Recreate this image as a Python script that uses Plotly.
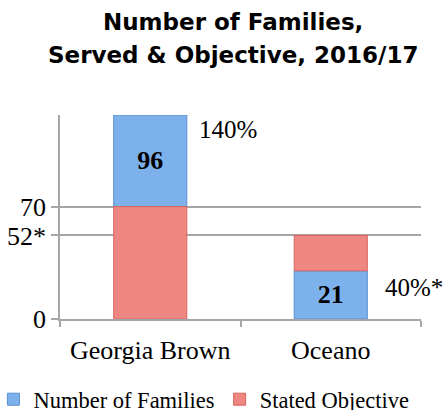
import plotly.graph_objects as go

# ---- data (segment heights as drawn) ----
categories = ["Georgia Brown", "Oceano"]
families_drawn = [57, 30]        # drawn height of "Number of Families" segment
objective_drawn = [70, 22]       # drawn height of "Stated Objective" segment
families_labels = ["96", "21"]
percent_labels = ["140%", "40%*"]
ytick_vals = [0, 52, 70]
ytick_text = ["0", "52*", "70"]
# stacking order: Georgia Brown objective at bottom, Oceano families at bottom
families_on_top = [True, False]

fam_base = [o if top else 0 for o, top in zip(objective_drawn, families_on_top)]
obj_base = [0 if top else f for f, top in zip(families_drawn, families_on_top)]
totals = [f + o for f, o in zip(families_drawn, objective_drawn)]

serif = "Liberation Serif, Times New Roman, serif"
grid = "#A6A6A6"

fig = go.Figure()
fig.add_trace(go.Bar(
    x=categories, y=families_drawn, base=fam_base, name="Number of Families",
    marker=dict(color="#7DB1EC", line=dict(color="#5A8ED0", width=1)),
    width=0.405, text=[f"<b>{t}</b>" for t in families_labels],
    textposition="inside", insidetextanchor="middle", textangle=0,
    constraintext="none",
    textfont=dict(family=serif, size=26, color="black"),
))
fig.add_trace(go.Bar(
    x=categories, y=objective_drawn, base=obj_base, name="Stated Objective",
    marker=dict(color="#EE8782", line=dict(color="#D8645D", width=1)),
    width=0.405,
))

# percent annotations
pct_y = [totals[0] - 9.3, families_drawn[1] - 10.5]
pct_shift = [47, 52]
for c, t, yv, xs in zip(categories, percent_labels, pct_y, pct_shift):
    fig.add_annotation(x=c, y=yv, text=t, showarrow=False, xanchor="left",
                       yanchor="middle", xshift=xs,
                       font=dict(family=serif, size=25, color="black"))

# title lines
fig.add_annotation(xref="paper", yref="paper", x=0.479, y=1.456,
                   xanchor="center", yanchor="middle",
                   text="<b>Number of Families,</b>", showarrow=False,
                   font=dict(family="DejaVu Sans", size=23, color="black"))
fig.add_annotation(xref="paper", yref="paper", x=0.479, y=1.294,
                   xanchor="center", yanchor="middle",
                   text="<b>Served & Objective, 2016/17</b>", showarrow=False,
                   font=dict(family="DejaVu Sans", size=23, color="black"))

fig.update_layout(
    width=448, height=410,
    margin=dict(l=60, r=27, t=115, b=91, autoexpand=False),
    barmode="overlay",
    paper_bgcolor="white", plot_bgcolor="white",
    showlegend=True,
    legend=dict(orientation="h", x=-0.1845, xanchor="left", y=-0.395,
                yanchor="middle", font=dict(family=serif, size=22.5, color="black"),
                bgcolor="rgba(0,0,0,0)", itemwidth=30, traceorder="normal"),
    xaxis=dict(range=[-0.5, len(categories) - 0.5],
               showline=True, linecolor=grid, linewidth=1.5, ticks="outside",
               tickson="boundaries", ticklen=6, tickcolor=grid, tickwidth=1.5,
               showgrid=False, tickangle=0, automargin=False,
               tickfont=dict(family=serif, size=26, color="black"),
               ticklabelstandoff=7),
    yaxis=dict(range=[0, max(totals)], tickvals=ytick_vals, ticktext=ytick_text,
               showline=True, linecolor=grid, linewidth=1.5, ticks="outside",
               ticklen=7, tickcolor=grid, tickwidth=1.5, showgrid=True,
               gridcolor=grid, gridwidth=1.5, zeroline=False, layer="above traces",
               automargin=False,
               tickfont=dict(family=serif, size=26, color="black")),
)

fig.write_html(
    "out.html",
    config={"responsive": False, "displayModeBar": False},
    post_script="document.body.style.margin='0';document.body.style.overflow='hidden';",
)
